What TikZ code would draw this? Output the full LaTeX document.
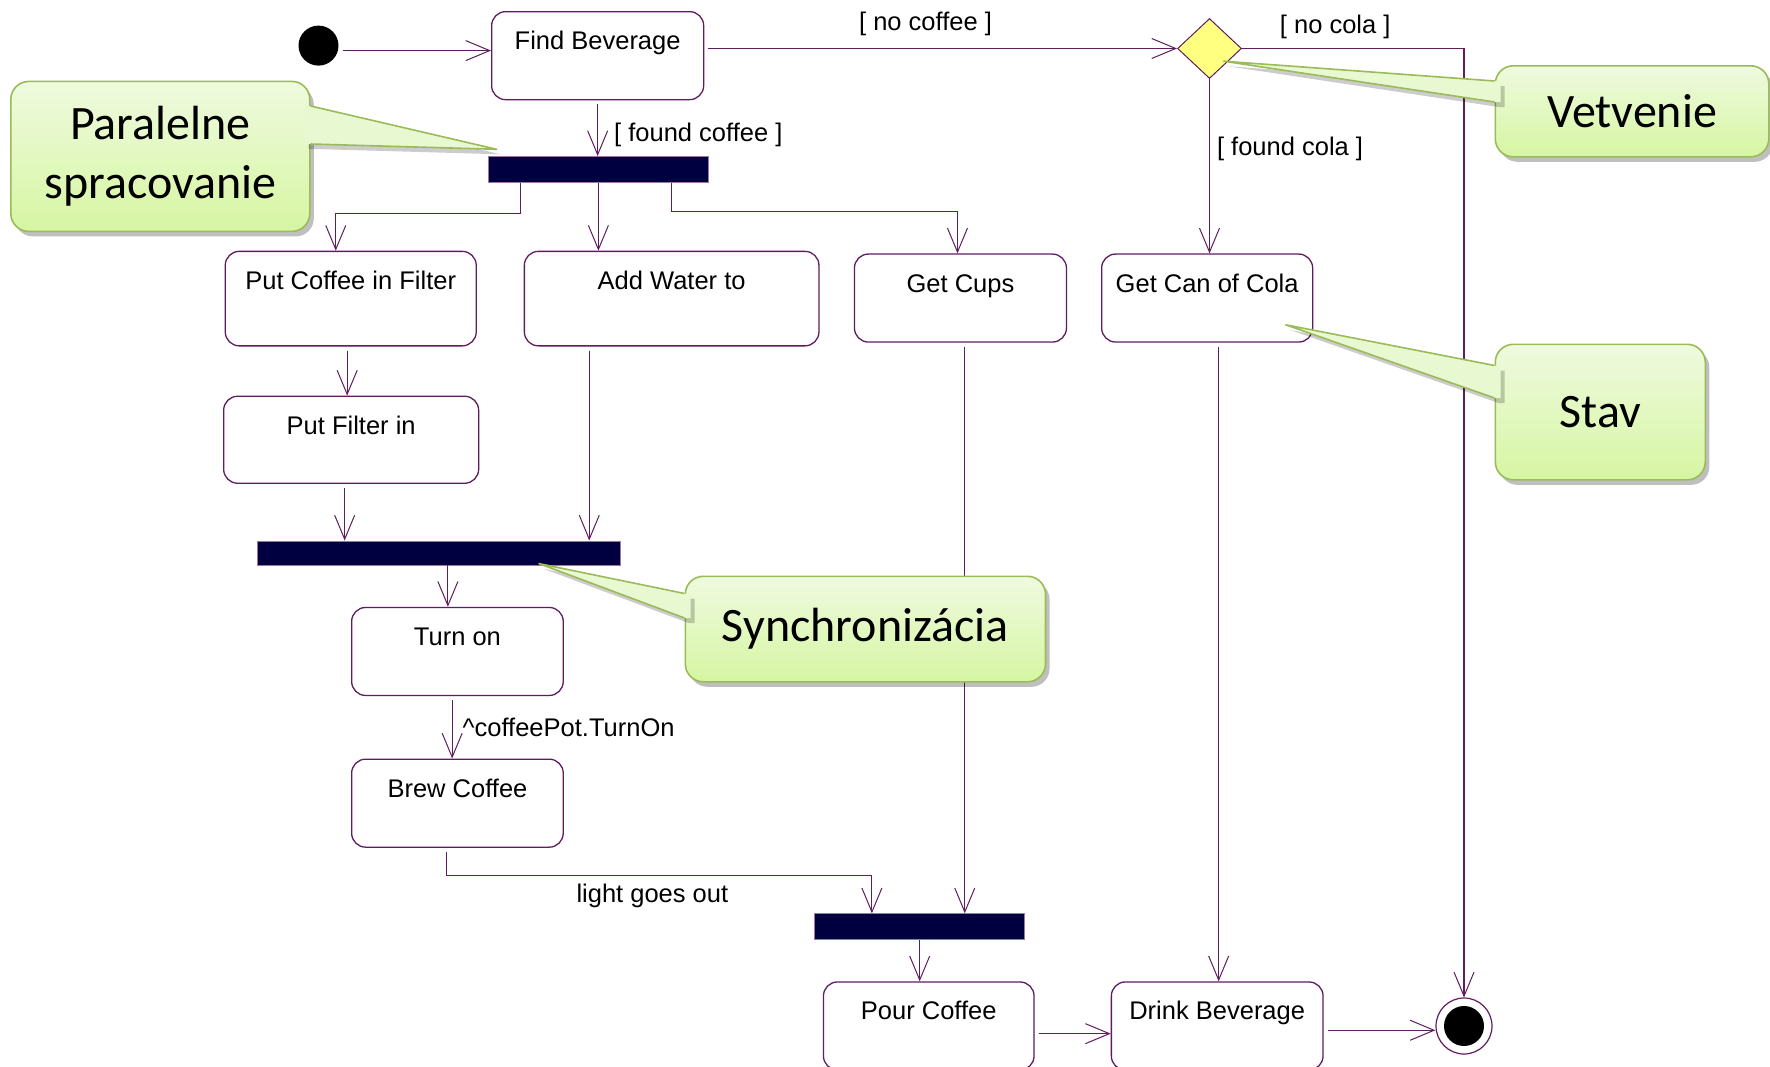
\documentclass[tikz,border=0pt]{standalone}
\usepackage{fontspec}
\newfontfamily\umlfont{Liberation Sans}
\newfontfamily\notefont{Carlito}
\usetikzlibrary{arrows.meta, shapes.geometric, shadows, calc}
\definecolor{umlline}{HTML}{5E1D5E}
\definecolor{barnavy}{HTML}{000040}
\definecolor{decfill}{HTML}{FFFF80}
\definecolor{notetop}{HTML}{EFFADF}
\definecolor{notebot}{HTML}{D6F6A2}
\definecolor{notefill}{HTML}{E8F9D2}
\definecolor{noteline}{HTML}{9BBB59}
\begin{document}
\begin{tikzpicture}[x=1pt, y=-1pt,
  flow/.style={draw=umlline, line width=1.1pt, shorten <=4pt,
    -{Straight Barb[length=24pt, width=20pt, line width=1pt]}},
  activity/.style={draw=umlline, line width=1.3pt, rounded corners=14pt,
    anchor=north west, inner sep=0pt, text height=38pt, text depth=50pt,
    font=\umlfont\fontsize{25.5}{30}\selectfont},
  syncbar/.style={fill=barnavy, draw=umlline!60, line width=0.8pt,
    anchor=north west, inner sep=0pt},
  decision/.style={diamond, draw=umlline, fill=decfill, line width=1pt,
    minimum width=64pt, minimum height=60pt, inner sep=0pt},
  guard/.style={inner sep=0pt, font=\umlfont\fontsize{25.5}{30}\selectfont},
  note/.style={anchor=north west, rounded corners=18pt, draw=noteline,
    line width=1.6pt, top color=notetop, bottom color=notebot, align=center,
    drop shadow={shadow xshift=4pt, shadow yshift=-5pt, fill=black, opacity=0.25},
    font=\notefont\fontsize{48}{59}\selectfont},
  pointer/.style={fill=notefill,
    drop shadow={shadow xshift=4pt, shadow yshift=-5pt, fill=black, opacity=0.2}},
  pointeredge/.style={draw=noteline, line width=1.6pt, line join=round}]
\useasboundingbox (0,0) rectangle (1770,1066);

% states
\node[circle, fill=black, minimum size=40pt, inner sep=0pt] (P_init) at (318.5,45.6) {};
\node[activity, minimum width=212pt] (P_find) at (491,11) {Find Beverage};
\node[decision] (P_dec) at (1209.5,48.5) {};
\node[syncbar, minimum width=220pt, minimum height=26pt] (P_fork) at (488,156) {};
\node[activity, minimum width=251pt, text depth=56.5pt] (P_filter) at (224.6,250.7) {Put Coffee in Filter};
\node[activity, minimum width=294.6pt, text depth=56.5pt] (P_water) at (523.7,250.7) {Add Water to};
\node[activity, minimum width=212pt] (P_cups) at (853.8,253.4) {Get Cups};
\node[activity, minimum width=211pt] (P_cola) at (1101,253.4) {Get Can of Cola};
\node[activity, minimum width=255pt, text depth=49pt] (P_putin) at (223,395.6) {Put Filter in};
\node[syncbar, minimum width=362.8pt, minimum height=24pt] (P_join1) at (256.8,540.5) {};
\node[activity, minimum width=211.6pt] (P_turnon) at (351,606.8) {Turn on};
\node[activity, minimum width=211.6pt] (P_brew) at (351,758.5) {Brew Coffee};
\node[syncbar, minimum width=210pt, minimum height=26pt] (P_join2) at (814.3,913.3) {};
\node[activity, minimum width=210.6pt] (P_pour) at (822.8,981.3) {Pour Coffee};
\node[activity, minimum width=211.7pt] (P_drink) at (1110.7,981.3) {Drink Beverage};
\node[circle, draw=umlline, line width=1.2pt, minimum size=56pt, inner sep=0pt] (P_end) at (1464,1026) {};
\node[circle, fill=black, minimum size=40pt, inner sep=0pt] (P_endDot) at (P_end) {};

% transitions
\draw[flow] ([yshift=-5pt]P_init.east) -- ([yshift=-5pt]P_init.east -| P_find.west);
\draw[flow] (P_find.east |- P_dec.west) -- node[guard, pos=0.468, above=12pt] {[ no coffee ]} (P_dec.west);
\draw[flow, shorten <=0pt] (P_dec.east) -| node[guard, pos=0.21, above=9.5pt] {[ no cola ]} (P_end.north);
\draw[flow, shorten <=0pt] (P_dec.south) -- node[guard, pos=0.4, right=7pt] {[ found cola ]} (P_dec.south |- P_cola.north);
\draw[flow] (P_find.south) -- node[guard, pos=0.62, right=16pt] {[ found coffee ]} (P_find.south |- P_fork.north);
\draw[flow, shorten <=0pt] ([xshift=-78pt]P_fork.south) -- ++(0,30.6) -| ([xshift=-15pt]P_filter.north);
\draw[flow, shorten <=0pt] (P_fork.south) -- (P_fork.south |- P_water.north);
\draw[flow, shorten <=0pt] ([xshift=73.5pt]P_fork.south) -- ++(0,29) -| ([xshift=-3pt]P_cups.north);
\draw[flow] ([xshift=-3.6pt]P_filter.south) -- ([xshift=-3.6pt]P_filter.south |- P_putin.north);
\draw[flow] ([xshift=-6.5pt]P_putin.south) -- ([xshift=-6.5pt]P_putin.south |- P_join1.north);
\draw[flow] ([xshift=-82.4pt]P_water.south) -- ([xshift=-82.4pt]P_water.south |- P_join1.north);
\draw[flow, shorten <=0pt] ([xshift=9.3pt]P_join1.south) -- ([xshift=9.3pt]P_join1.south |- P_turnon.north);
\draw[flow] ([xshift=-5.3pt]P_turnon.south) -- node[guard, pos=0.5, right=10pt] {\textasciicircum coffeePot.TurnOn} ([xshift=-5.3pt]P_turnon.south |- P_brew.north);
\draw[flow] ([xshift=-11pt]P_brew.south) -- ++(0,28) -| node[guard, pos=0.242, below=7.5pt] {light goes out} ([xshift=57.6pt]P_join2.north west);
\draw[flow] ([xshift=4.3pt]P_cups.south) -- ([xshift=4.3pt]P_cups.south |- P_join2.north);
\draw[flow, shorten <=0pt] (P_join2.south) -- (P_join2.south |- P_pour.north);
\draw[flow] ([yshift=-7.7pt]P_pour.east) -- ([yshift=-7.7pt]P_pour.east -| P_drink.west);
\draw[flow] ([xshift=11.5pt]P_cola.south) -- ([xshift=11.5pt]P_cola.south |- P_drink.north);
\draw[flow] ([yshift=-4.3pt]P_drink.east) -- ([yshift=-4.3pt]P_drink.east -| P_end.west);

% callouts
\coordinate (T_par) at (496.7,149.3);
\coordinate (T_vet) at (1223.6,61.2);
\coordinate (T_stav) at (1285.7,324.8);
\coordinate (T_sync) at (539,563.6);

\node[note, minimum width=299pt, minimum height=150pt] (C_par) at (10,80.6) {Paralelne\\spracovanie};
\fill[pointer] ($(C_par.north east)+(-6,25.4)$) -- ($(C_par.north east)+(0,25.4)$) -- (T_par) -- ($(C_par.north east)+(0,63.4)$) -- ($(C_par.north east)+(-6,63.4)$) -- cycle;
\draw[pointeredge] ($(C_par.north east)+(0,25.4)$) -- (T_par) -- ($(C_par.north east)+(0,63.4)$);

\node[note, minimum width=273.5pt, minimum height=91pt] (C_vet) at (1494.5,65) {Vetvenie};
\fill[pointer] ($(C_vet.north west)+(6,16)$) -- ($(C_vet.north west)+(0,16)$) -- (T_vet) -- ($(C_vet.north west)+(0,37)$) -- ($(C_vet.north west)+(6,37)$) -- cycle;
\draw[pointeredge] ($(C_vet.north west)+(0,16)$) -- (T_vet) -- ($(C_vet.north west)+(0,37)$);

\node[note, minimum width=210pt, minimum height=135.5pt] (C_stav) at (1494.5,343.5) {Stav};
\fill[pointer] ($(C_stav.north west)+(6,22)$) -- ($(C_stav.north west)+(0,22)$) -- (T_stav) -- ($(C_stav.north west)+(0,54.5)$) -- ($(C_stav.north west)+(6,54.5)$) -- cycle;
\draw[pointeredge] ($(C_stav.north west)+(0,22)$) -- (T_stav) -- ($(C_stav.north west)+(0,54.5)$);

\node[note, minimum width=360.2pt, minimum height=105.5pt] (C_sync) at (684.5,575.5) {Synchronizácia};
\fill[pointer] ($(C_sync.north west)+(6,18)$) -- ($(C_sync.north west)+(0,18)$) -- (T_sync) -- ($(C_sync.north west)+(0,42.5)$) -- ($(C_sync.north west)+(6,42.5)$) -- cycle;
\draw[pointeredge] ($(C_sync.north west)+(0,18)$) -- (T_sync) -- ($(C_sync.north west)+(0,42.5)$);
\end{tikzpicture}
\end{document}
